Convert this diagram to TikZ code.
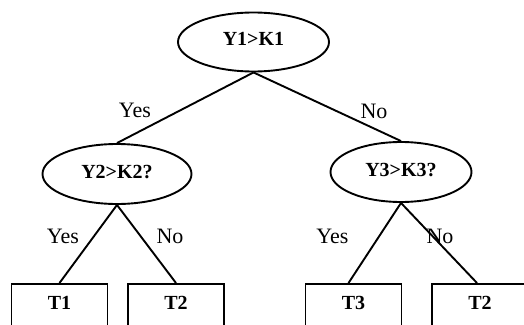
\documentclass[tikz,border=0pt]{standalone}
\usepackage{fontspec}
\setmainfont{Liberation Serif}
\usetikzlibrary{shapes.geometric}
\tikzset{
  test/.style={draw, line width=1.9pt, ellipse, inner sep=0pt, font=\fontsize{20}{20}\selectfont\bfseries},
  leaf/.style={draw, line width=1.9pt, rectangle, anchor=north, minimum width=96pt, inner xsep=0pt, inner ysep=12pt, text height=13.5pt, text depth=30pt, font=\fontsize{20}{20}\selectfont\bfseries},
  edge/.style={line width=1.9pt},
  lbl/.style={inner sep=0pt, font=\fontsize{22}{22}\selectfont}
}
\begin{document}
\begin{tikzpicture}[x=1pt,y=-1pt]
\useasboundingbox (0,0) rectangle (524,324);
\clip (0,0) rectangle (524,324);
\fill[white] (0,0) rectangle (524,324);
\node[test, minimum width=151pt, minimum height=59pt, text depth=7pt] (root) at (253.5,42) {Y1>K1};
\node[test, minimum width=149pt, minimum height=60pt, text depth=4pt] (left) at (117,174) {Y2>K2?};
\node[test, minimum width=141pt, minimum height=60pt, text depth=4pt] (right) at (401,172) {Y3>K3?};
\node[leaf] (t1) at (59.5,283) {T1};
\node[leaf] (t2a) at (176,283) {T2};
\node[leaf] (t3) at (353.5,283) {T3};
\node[leaf] (t2b) at (480,283) {T2};
\draw[edge] (root.south) -- (left.north);
\draw[edge] (root.south) -- (right.north);
\draw[edge] (left.south) -- (t1.north);
\draw[edge] (left.south) -- (t2a.north);
\draw[edge] (right.south) -- ([xshift=-5pt]t3.north);
\draw[edge] (right.south) -- ([xshift=-3pt]t2b.north);
\node[lbl] (y1) at (135,110) {Yes};
\node[lbl] (n1) at (374,111) {No};
\node[lbl] (y2) at (63,236.5) {Yes};
\node[lbl] (n2) at (170,236.5) {No};
\node[lbl] (y3) at (332.5,236.5) {Yes};
\node[lbl] (n3) at (440,236.5) {No};
\end{tikzpicture}
\end{document}
